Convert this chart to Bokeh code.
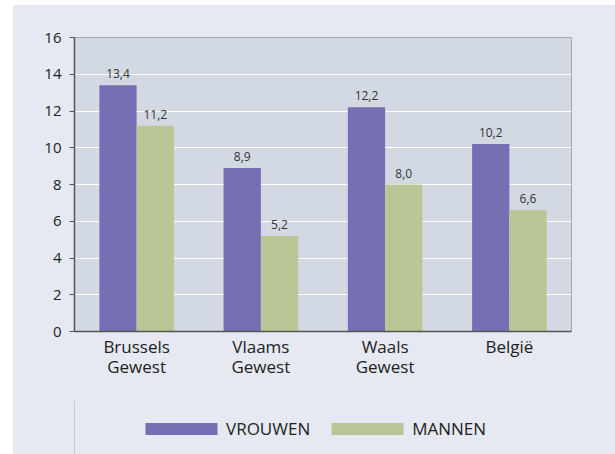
from bokeh.plotting import figure
from bokeh.models import ColumnDataSource, FactorRange, FixedTicker, Legend, LegendItem, Range1d
from bokeh.layouts import column
from bokeh.transform import dodge
from bokeh.embed import file_html
from bokeh.resources import INLINE

categories = ["Brussels\nGewest", "Vlaams\nGewest", "Waals\nGewest", "België"]
vrouwen = [13.4, 8.9, 12.2, 10.2]
mannen = [11.2, 5.2, 8.0, 6.6]
y_ticks = [0, 2, 4, 6, 8, 10, 12, 14, 16]
series_names = ["VROUWEN", "MANNEN"]

PURPLE = "#7570b3"
GREEN = "#b8c795"
PANEL = "#e6e9f1"
PLOTBG = "#d3d9e3"
FONT = "Open Sans"

src = ColumnDataSource(dict(
    cat=categories,
    vrouwen=vrouwen,
    mannen=mannen,
    vrouwen_lbl=[f"{v:.1f}".replace(".", ",") for v in vrouwen],
    mannen_lbl=[f"{v:.1f}".replace(".", ",") for v in mannen],
))

p = figure(width=602, height=395, output_backend="svg", toolbar_location=None,
           x_range=FactorRange(*categories, range_padding=0, factor_padding=0),
           y_range=(0, 16),
           min_border_left=61, min_border_right=44, min_border_top=32, min_border_bottom=69)

p.border_fill_color = PANEL
p.background_fill_color = PLOTBG
p.outline_line_color = "#a3a7ae"
p.outline_line_width = 1

p.vbar(x=dodge("cat", -0.15, range=p.x_range), top="vrouwen", width=0.3,
       source=src, fill_color=PURPLE, line_color=None)
p.vbar(x=dodge("cat", 0.15, range=p.x_range), top="mannen", width=0.3,
       source=src, fill_color=GREEN, line_color=None)

p.text(x=dodge("cat", -0.15, range=p.x_range), y="vrouwen", text="vrouwen_lbl", source=src,
       text_align="center", text_baseline="bottom", y_offset=-7,
       text_font_size="12px", text_color="#333333", text_font={"value": FONT})
p.text(x=dodge("cat", 0.15, range=p.x_range), y="mannen", text="mannen_lbl", source=src,
       text_align="center", text_baseline="bottom", y_offset=-7,
       text_font_size="12px", text_color="#333333", text_font={"value": FONT})

p.xgrid.grid_line_color = None
p.ygrid.grid_line_color = "white"
p.ygrid.grid_line_width = 1.2
p.ygrid.ticker = FixedTicker(ticks=y_ticks)

p.yaxis.ticker = FixedTicker(ticks=y_ticks)
p.yaxis.axis_line_color = "#555555"
p.yaxis.axis_line_width = 1.5
p.yaxis.major_tick_line_color = "#555555"
p.yaxis.major_tick_out = 5
p.yaxis.major_tick_in = 0
p.yaxis.minor_tick_line_color = None
p.yaxis.major_label_text_font = FONT
p.yaxis.major_label_text_font_size = "15px"
p.yaxis.major_label_text_color = "#222222"
p.yaxis.major_label_standoff = 8

p.xaxis.axis_line_color = "#555555"
p.xaxis.axis_line_width = 1.5
p.xaxis.major_tick_line_color = None
p.xaxis.minor_tick_line_color = None
p.xaxis.major_tick_out = 0
p.xaxis.major_tick_in = 0
p.xaxis.major_label_text_font = FONT
p.xaxis.major_label_text_font_size = "17px"
p.xaxis.major_label_text_line_height = 0.87
p.xaxis.major_label_text_color = "#222222"
p.xaxis.major_label_standoff = 3

# legend strip below the chart
lg = figure(width=602, height=54, output_backend="svg", toolbar_location=None,
            x_range=Range1d(0, 1), y_range=Range1d(0, 1),
            x_axis_location=None, y_axis_location=None,
            min_border_left=61, min_border_right=44, min_border_top=0, min_border_bottom=0)
lg.grid.visible = False
lg.background_fill_color = PANEL
lg.border_fill_color = PANEL
lg.outline_line_color = PANEL
lg.outline_line_width = 3
# proxy bars placed outside the visible range; they only feed the legend swatches
g1 = lg.vbar(x=[-10], top=[1], width=0.3, fill_color=PURPLE, line_color=None)
g2 = lg.vbar(x=[-10], top=[1], width=0.3, fill_color=GREEN, line_color=None)

legend = Legend(items=[LegendItem(label=series_names[0], renderers=[g1]),
                       LegendItem(label=series_names[1], renderers=[g2])],
                orientation="horizontal", location=(62, 14),
                glyph_width=90, glyph_height=15, label_height=15,
                label_standoff=0, spacing=12, padding=0, margin=0,
                border_line_color=None, background_fill_alpha=0,
                label_text_font=FONT, label_text_font_size="17px",
                label_text_color="#222222")
lg.add_layout(legend)

layout = column(p, lg, spacing=0)
layout.styles = {"margin-left": "13px", "margin-top": "5px", "background-color": PANEL}

open("out.html", "w").write(file_html(layout, INLINE))
